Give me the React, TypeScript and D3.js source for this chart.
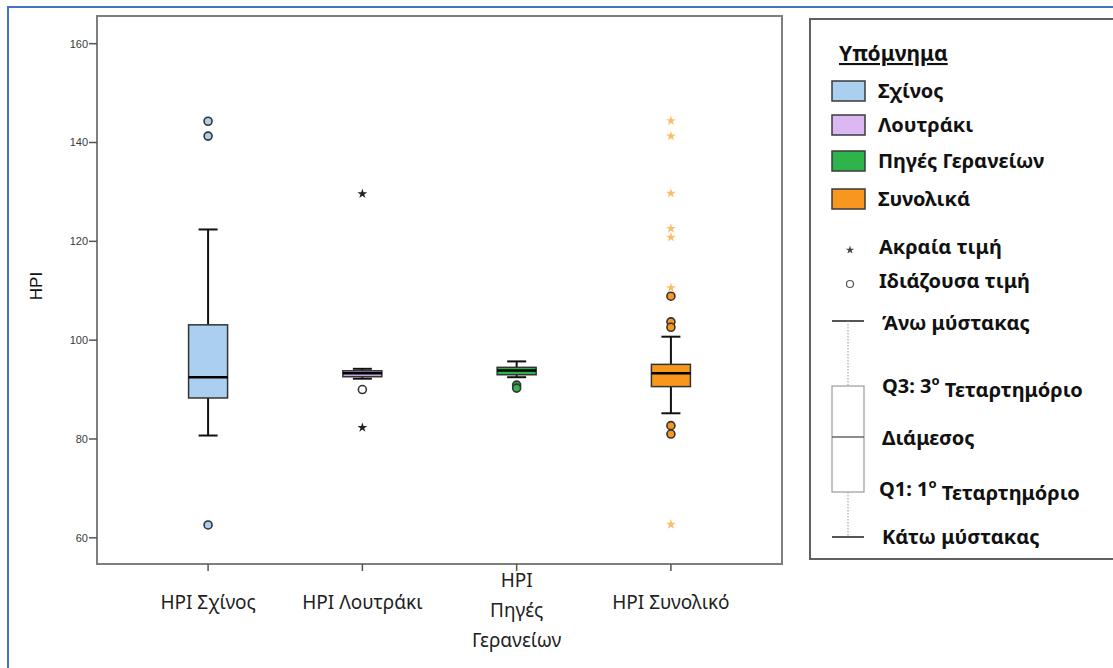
import React from "react";
import * as d3 from "d3";

const categories = ["Σχίνος", "Λουτράκι", "Πηγές Γερανείων", "Συνολικό"];
const categoryLabelLines = [["HPI Σχίνος"], ["HPI Λουτράκι"], ["HPI", "Πηγές", "Γερανείων"], ["HPI Συνολικό"]];
const lowerWhisker = [80.7, 92.2, 92.5, 85.2];
const q1 = [88.3, 92.6, 93.0, 90.6];
const median = [92.5, 93.3, 93.85, 93.3];
const q3 = [103.1, 93.8, 94.5, 95.1];
const upperWhisker = [122.4, 94.2, 95.7, 100.7];
const outliers = [[144.3, 141.3, 62.6], [90.0], [90.9, 90.3], [108.9, 103.7, 102.6, 82.7, 81.0]];
const extremes = [[], [129.6, 82.3], [], [144.4, 141.3, 129.7, 122.6, 120.8, 110.6, 62.7]];
const boxFills = ["#abcfef", "#c9a9e6", "#2fb44c", "#f7971e"];
const outlierFills = ["#abcfef", "#ffffff", "#2fb44c", "#f7971e"];
const extremeFills = ["#222222", "#222222", "#222222", "#fbb150"];
const yTicks = [60, 80, 100, 120, 140, 160];
const legendSeries = ["Σχίνος", "Λουτράκι", "Πηγές Γερανείων", "Συνολικά"];
const legendSwatchFills = ["#abcfef", "#dcb8f2", "#2fb44c", "#f7971e"];

const W = 1113, H = 668;
const plot = { left: 97, right: 782, top: 16, bottom: 564 };
const FONT = "'Noto Sans', 'Open Sans', sans-serif";

export default function App() {
  const y = d3.scaleLinear().domain([54.7, 165.6]).range([plot.bottom, plot.top]);
  const x = d3.scalePoint<string>().domain(categories).range([plot.left, plot.right]).padding(0.72);
  const boxW = 39, capW = 19;
  const star = d3.symbol().type(d3.symbolStar).size(30)();
  const starSmall = d3.symbol().type(d3.symbolStar).size(22)();

  const legendX = 810, swX = 832, swW = 33, swH = 20, txtX = 878;
  const swCenters = [91, 125, 161, 199];
  const gx = 848;
  const gUpper = 321, gQ3 = 386, gMed = 437, gQ1 = 492, gLower = 537;
  const LF = 20;

  return (
    <svg width={W} height={H} style={{ position: "absolute", left: 0, top: 0, background: "#fff" }} fontFamily={FONT}>
      <rect x={0} y={0} width={W} height={H} fill="#fff" />
      <rect x={8} y={7} width={1200} height={700} fill="none" stroke="#4472c4" strokeWidth={2} />

      <rect x={plot.left} y={plot.top} width={plot.right - plot.left} height={plot.bottom - plot.top}
        fill="none" stroke="#7f7f7f" strokeWidth={2} />

      {yTicks.map(t => (
        <g key={t}>
          <line x1={plot.left - 8} x2={plot.left} y1={y(t)} y2={y(t)} stroke="#555" strokeWidth={1.5} />
          <text x={plot.left - 9} y={y(t)} dy="0.35em" textAnchor="end" fontSize={11}
            fontFamily="'Liberation Sans', Arial, sans-serif" fill="#3a3a3a">{t}</text>
        </g>
      ))}
      <text transform={`translate(42,${286}) rotate(-90)`} textAnchor="middle" fontSize={17}
        fontFamily="'Liberation Sans', Arial, sans-serif" fill="#111">HPI</text>

      {categories.map((c, i) => {
        const cx = x(c)!;
        const lines = categoryLabelLines[i];
        const startY = lines.length === 1 ? 609 : 587;
        return (
          <g key={c}>
            <line x1={cx} x2={cx} y1={plot.bottom} y2={plot.bottom + 7} stroke="#555" strokeWidth={1.5} />
            {lines.map((l, k) => (
              <text key={k} x={cx} y={startY + k * 30} textAnchor="middle" fontSize={19} fill="#222">{l}</text>
            ))}
          </g>
        );
      })}

      {categories.map((c, i) => {
        const cx = x(c)!;
        return (
          <g key={c}>
            <line x1={cx} x2={cx} y1={y(upperWhisker[i])} y2={y(q3[i])} stroke="#111" strokeWidth={2} />
            <line x1={cx} x2={cx} y1={y(q1[i])} y2={y(lowerWhisker[i])} stroke="#111" strokeWidth={2} />
            <line x1={cx - capW / 2} x2={cx + capW / 2} y1={y(upperWhisker[i])} y2={y(upperWhisker[i])} stroke="#111" strokeWidth={2} />
            <line x1={cx - capW / 2} x2={cx + capW / 2} y1={y(lowerWhisker[i])} y2={y(lowerWhisker[i])} stroke="#111" strokeWidth={2} />
            <rect x={cx - boxW / 2} y={y(q3[i])} width={boxW} height={y(q1[i]) - y(q3[i])}
              fill={boxFills[i]} stroke="#333" strokeWidth={1.5} />
            <line x1={cx - boxW / 2} x2={cx + boxW / 2} y1={y(median[i])} y2={y(median[i])} stroke="#000" strokeWidth={2.5} />
            {outliers[i].map((v, k) => (
              <circle key={"o" + k} cx={cx} cy={y(v)} r={4} fill={outlierFills[i]} stroke="#333" strokeWidth={1.6} />
            ))}
            {extremes[i].map((v, k) => (
              <path key={"e" + k} d={star!} transform={`translate(${cx},${y(v)})`} fill={extremeFills[i]}
                opacity={i === 3 ? 0.85 : 1} />
            ))}
          </g>
        );
      })}

      <rect x={legendX} y={19} width={400} height={540} fill="#fff" stroke="#606060" strokeWidth={2} />
      <text x={839} y={61} fontSize={21} fontWeight="bold" fill="#111" textDecoration="underline">Υπόμνημα</text>
      {legendSeries.map((s, i) => (
        <g key={s}>
          <rect x={swX} y={swCenters[i] - swH / 2} width={swW} height={swH} fill={legendSwatchFills[i]} stroke="#3a3a3a" strokeWidth={1.5} />
          <text x={txtX} y={swCenters[i]} dy="0.36em" fontSize={LF} fontWeight="bold" fill="#111">{s}</text>
        </g>
      ))}
      <path d={starSmall!} transform="translate(850,250)" fill="#444" />
      <text x={879} y={247} dy="0.36em" fontSize={LF} fontWeight="bold" fill="#111">Ακραία τιμή</text>
      <circle cx={850} cy={284} r={3.5} fill="#fff" stroke="#555" strokeWidth={1.2} />
      <text x={879} y={281} dy="0.36em" fontSize={LF} fontWeight="bold" fill="#111">Ιδιάζουσα τιμή</text>

      <line x1={832} x2={864} y1={gUpper} y2={gUpper} stroke="#555" strokeWidth={2} />
      <line x1={gx} x2={gx} y1={gUpper} y2={gQ3} stroke="#999" strokeWidth={1} strokeDasharray="1.5,1.5" />
      <rect x={832} y={gQ3} width={32} height={gQ1 - gQ3} fill="#fff" stroke="#9a9a9a" strokeWidth={1.2} />
      <line x1={832} x2={864} y1={gMed} y2={gMed} stroke="#666" strokeWidth={1.5} />
      <line x1={gx} x2={gx} y1={gQ1} y2={gLower} stroke="#999" strokeWidth={1} strokeDasharray="1.5,1.5" />
      <line x1={832} x2={864} y1={gLower} y2={gLower} stroke="#555" strokeWidth={2} />
      <text x={882} y={323} dy="0.36em" fontSize={LF} fontWeight="bold" fill="#111">Άνω μύστακας</text>
      <text x={882} y={386} dy="0.36em" fontSize={LF} fontWeight="bold" fill="#111">
        Q3: 3<tspan fontSize={13} dy="-0.6em">ο</tspan><tspan dy="0.6em"> Τεταρτημόριο</tspan>
      </text>
      <text x={882} y={438} dy="0.36em" fontSize={LF} fontWeight="bold" fill="#111">Διάμεσος</text>
      <text x={879} y={489} dy="0.36em" fontSize={LF} fontWeight="bold" fill="#111">
        Q1: 1<tspan fontSize={13} dy="-0.6em">ο</tspan><tspan dy="0.6em"> Τεταρτημόριο</tspan>
      </text>
      <text x={882} y={537} dy="0.36em" fontSize={LF} fontWeight="bold" fill="#111">Κάτω μύστακας</text>
    </svg>
  );
}
